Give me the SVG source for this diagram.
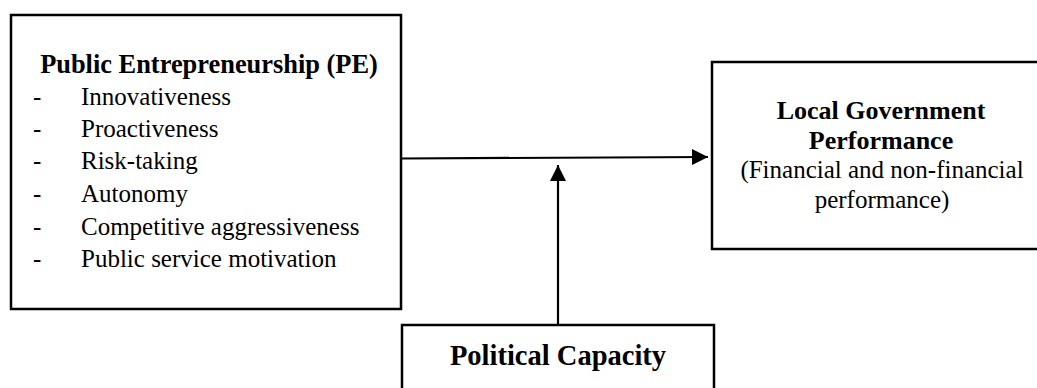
<svg xmlns="http://www.w3.org/2000/svg" width="1037" height="388" viewBox="0 0 1037 388">
<style>
.box{fill:#fff;stroke:#000;stroke-width:2.5}
.edge{stroke:#000;stroke-width:2.2;fill:none}
</style>
<defs>
<marker id="ah" markerUnits="userSpaceOnUse" markerWidth="16" markerHeight="16" viewBox="0 0 16 16" refX="16" refY="8" orient="auto">
<path d="M0,0 L16,8 L0,16 Z" fill="#000"/>
</marker>
</defs>
<rect width="1037" height="388" fill="#fff"/>
<g id="pe">
<rect class="box" x="11" y="15" width="390" height="294"/>
<text x="209" y="73" text-anchor="middle" font-family="Liberation Serif" font-size="26.4" font-weight="bold">Public Entrepreneurship (PE)</text>
<g font-family="Liberation Serif" font-size="25">
<text x="33" y="105">-</text><text x="81" y="105">Innovativeness</text>
<text x="33" y="137">-</text><text x="81" y="137">Proactiveness</text>
<text x="33" y="169">-</text><text x="81" y="169">Risk-taking</text>
<text x="33" y="202">-</text><text x="81" y="202">Autonomy</text>
<text x="33" y="235">-</text><text x="81" y="235">Competitive aggressiveness</text>
<text x="33" y="267">-</text><text x="81" y="267">Public service motivation</text>
</g>
</g>
<g id="lgp" font-family="Liberation Serif" font-size="25" text-anchor="middle">
<rect class="box" x="712" y="62" width="340" height="187"/>
<text x="881" y="119" font-weight="bold" font-size="26">Local Government</text>
<text x="881" y="149" font-weight="bold" font-size="26">Performance</text>
<text x="882" y="178">(Financial and non-financial</text>
<text x="882" y="208">performance)</text>
</g>
<g id="pc">
<rect class="box" x="402" y="325" width="312" height="80"/>
<text x="558" y="365" text-anchor="middle" font-family="Liberation Serif" font-size="28.5" font-weight="bold">Political Capacity</text>
</g>
<g id="connectors">
<line class="edge" x1="402" y1="158.5" x2="708" y2="157" marker-end="url(#ah)"/>
<line class="edge" x1="558" y1="325" x2="558" y2="165" marker-end="url(#ah)"/>
</g>
</svg>
